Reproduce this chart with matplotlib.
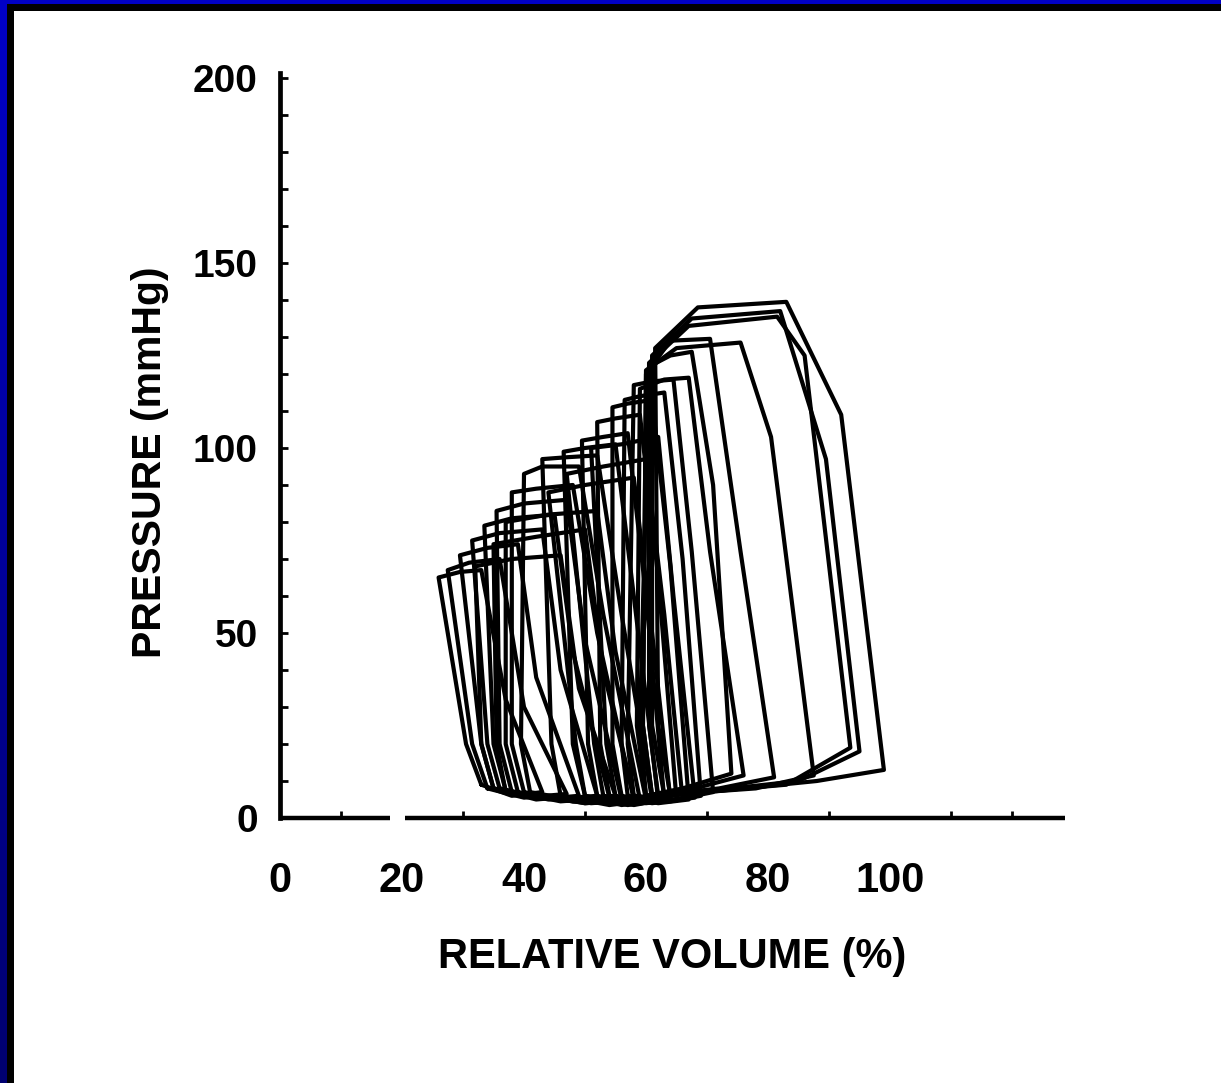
import matplotlib
matplotlib.use("Agg")
import matplotlib.pyplot as plt
import numpy as np

# Pressure-volume loops recorded during a progressive preload reduction.
# Each loop is a closed outline through eight points:
# bottom-left, lower left edge, top-left, top, top-right, right-edge bend,
# bottom-right, bottom middle.
loop_volume = [
    [33, 30.5, 26.0, 29.5, 33.0, 37.0, 43.0, 38],
    [34, 31.5, 27.5, 31.0, 36.0, 40.0, 47.0, 40],
    [35, 33.0, 29.5, 34.0, 39.0, 42.0, 49.0, 42],
    [36, 34.0, 31.5, 36.0, 43.0, 46.0, 52.0, 44],
    [37, 35.0, 33.5, 38.0, 45.0, 48.0, 54.0, 46],
    [38, 36.0, 35.5, 40.0, 47.0, 50.0, 56.0, 48],
    [40, 38.0, 38.0, 42.0, 48.0, 52.0, 58.0, 50],
    [41, 39.5, 40.0, 43.0, 49.0, 53.0, 59.0, 51],
    [35, 33.0, 32.0, 38.0, 46.0, 49.0, 55.0, 45],
    [37, 35.5, 35.0, 42.0, 50.0, 53.0, 58.0, 48],
    [39, 37.0, 37.0, 44.0, 52.0, 55.0, 60.0, 50],
    [46, 44.5, 43.0, 47.0, 52.0, 56.0, 61.0, 54],
    [50, 48.0, 46.5, 50.0, 55.0, 58.0, 62.0, 56],
    [52, 50.5, 49.5, 53.0, 57.0, 60.0, 63.0, 58],
    [54, 52.5, 52.0, 55.0, 59.0, 62.0, 65.0, 60],
    [56, 54.5, 54.5, 57.0, 61.0, 64.0, 67.0, 62],
    [57, 56.0, 56.5, 59.0, 63.0, 66.0, 69.0, 64],
    [58, 57.0, 58.0, 61.0, 64.5, 67.5, 71.0, 65],
    [50, 48.5, 44.0, 50.0, 58.0, 61.0, 64.0, 57],
    [53, 51.5, 47.0, 53.0, 60.0, 63.0, 66.0, 59],
    [55, 53.5, 51.0, 56.0, 62.0, 64.5, 68.0, 61],
    [60, 58.5, 59.0, 63.0, 67.0, 70.5, 76.0, 68],
    [60, 59.0, 60.5, 64.0, 67.5, 71.0, 74.0, 66],
    [61, 59.5, 60.0, 64.0, 70.5, 75.5, 81.0, 72],
    [61, 59.5, 60.0, 65.0, 75.5, 80.5, 87.5, 78],
    [62, 60.5, 60.5, 67.0, 81.5, 86.0, 93.5, 83],
    [63, 61.0, 61.0, 67.5, 82.0, 89.5, 95.0, 85],
    [64, 62.0, 61.5, 68.5, 83.0, 92.0, 99.0, 88],
]
loop_pressure = [
    [9.0, 20, 65, 66.5, 67.0, 32, 7.0, 6.0],
    [8.0, 20, 67, 69.0, 70.0, 30, 6.5, 5.5],
    [8.0, 20, 71, 73.0, 74.0, 38, 6.0, 5.0],
    [8.0, 20, 75, 77.0, 78.0, 40, 6.0, 5.0],
    [7.5, 20, 79, 81.0, 82.0, 45, 5.5, 4.5],
    [7.0, 20, 83, 85.0, 86.0, 48, 5.0, 4.5],
    [7.0, 20, 88, 89.0, 90.0, 50, 5.0, 4.0],
    [7.0, 20, 93, 95.0, 95.0, 55, 5.0, 4.0],
    [8.0, 20, 68, 70.0, 71.0, 35, 6.0, 5.0],
    [7.0, 20, 74, 76.0, 78.0, 40, 5.5, 4.5],
    [7.0, 20, 80, 82.0, 83.0, 45, 5.0, 4.0],
    [6.0, 20, 97, 97.5, 98.0, 55, 5.0, 3.5],
    [6.0, 20, 99, 100.0, 101.0, 60, 5.0, 3.5],
    [6.0, 20, 102, 103.0, 104.0, 60, 5.0, 3.5],
    [6.0, 20, 107, 108.0, 109.0, 65, 5.0, 4.0],
    [6.0, 20, 111, 112.0, 113.0, 68, 5.0, 4.0],
    [6.0, 20, 113, 114.0, 115.0, 70, 6.0, 4.5],
    [6.0, 20, 117, 118.0, 118.5, 72, 7.0, 5.0],
    [6.0, 20, 88, 90.0, 92.0, 50, 5.0, 3.5],
    [6.0, 20, 93, 95.0, 97.0, 55, 5.0, 4.0],
    [6.0, 20, 100, 101.0, 103.0, 60, 5.5, 4.0],
    [6.0, 25, 116, 118.5, 119.0, 72, 11.5, 8.0],
    [6.0, 25, 122, 125.0, 126.0, 90, 12.0, 8.0],
    [6.0, 25, 120, 129.0, 129.5, 72, 11.0, 8.0],
    [6.0, 25, 121, 127.0, 128.5, 103, 11.5, 8.0],
    [6.0, 25, 123, 133.0, 135.5, 125, 19.0, 9.0],
    [6.0, 25, 125, 135.0, 137.0, 97, 18.0, 10.0],
    [6.0, 25, 127, 138.0, 139.5, 109, 13.0, 10.0],
]

x_tick_values = [0, 20, 40, 60, 80, 100]
y_tick_values = [0, 50, 100, 150, 200]
x_label = "RELATIVE VOLUME (%)"
y_label = "PRESSURE (mmHg)"

W, H = 1221, 1083
fig = plt.figure(figsize=(W / 100, H / 100), dpi=100)
fig.patch.set_facecolor("white")

# frame strips along the top and left edges
top_blue = fig.add_axes([0, 1 - 4 / H, 1, 4 / H])
top_blue.set_facecolor("#0000c4")
top_black = fig.add_axes([0, 1 - 11 / H, 1, 7 / H])
top_black.set_facecolor("black")
left_blue = fig.add_axes([0, 0, 7 / W, 1])
grad = np.linspace(0, 1, 256).reshape(-1, 1)
left_blue.imshow(
    np.dstack([np.zeros_like(grad), np.zeros_like(grad), 0.78 - 0.34 * grad]),
    aspect="auto", extent=[0, 1, 0, 1], origin="upper")
left_black = fig.add_axes([7 / W, 0, 7 / W, 1 - 4 / H])
left_black.set_facecolor("black")
for a in (top_blue, top_black, left_blue, left_black):
    a.set_xticks([]); a.set_yticks([])
    for s in a.spines.values():
        s.set_visible(False)

font = dict(family="Liberation Sans", weight="bold")

x0_px, y0_px = 280, 818
x_per_unit, y_per_unit = 6.1, 3.7
right_px, top_px = 1065, 73
ax = fig.add_axes([x0_px / W, (H - y0_px) / H,
                   (right_px - x0_px) / W, (y0_px - top_px) / H])
ax.set_xlim(0, (right_px - x0_px) / x_per_unit)
ax.set_ylim(0, (y0_px - top_px) / y_per_unit)
ax.patch.set_alpha(0)

for v, p in zip(loop_volume, loop_pressure):
    ax.plot(v + v[:1], p + p[:1], color="black", lw=3.0,
            solid_joinstyle="round", solid_capstyle="round")

for side in ("top", "right", "bottom"):
    ax.spines[side].set_visible(False)
ax.spines["left"].set_linewidth(3.4)

# x axis line, drawn with its short gap near 20
xmax = ax.get_xlim()[1]
ax.plot([0, 18.0], [0, 0], color="black", lw=3.2, clip_on=False,
        solid_capstyle="butt")
ax.plot([20.5, xmax], [0, 0], color="black", lw=3.2, clip_on=False,
        solid_capstyle="butt")

ax.set_yticks(y_tick_values)
ax.set_yticks(np.arange(0, 201, 10), minor=True)
ax.set_xticks(x_tick_values)
ax.set_xticks(np.arange(10, 121, 10), minor=True)
ax.tick_params(axis="y", which="both", direction="in", length=6, width=2)
ax.tick_params(axis="x", which="minor", direction="in", length=5, width=2)
ax.tick_params(axis="x", which="major", length=0, pad=31)
ax.tick_params(axis="y", which="major", pad=16)
ax.set_xticklabels([str(t) for t in x_tick_values], fontsize=30, **font)
ax.set_yticklabels([str(t) for t in y_tick_values], fontsize=28, **font)

fig.text(672 / W, 1 - 957 / H, x_label, ha="center", va="center",
         fontsize=30, **font)
fig.text(150 / W, 1 - 462 / H, y_label, ha="center", va="center",
         rotation=90, fontsize=29.5, **font)

fig.savefig("out.png", dpi=100, facecolor="white")
